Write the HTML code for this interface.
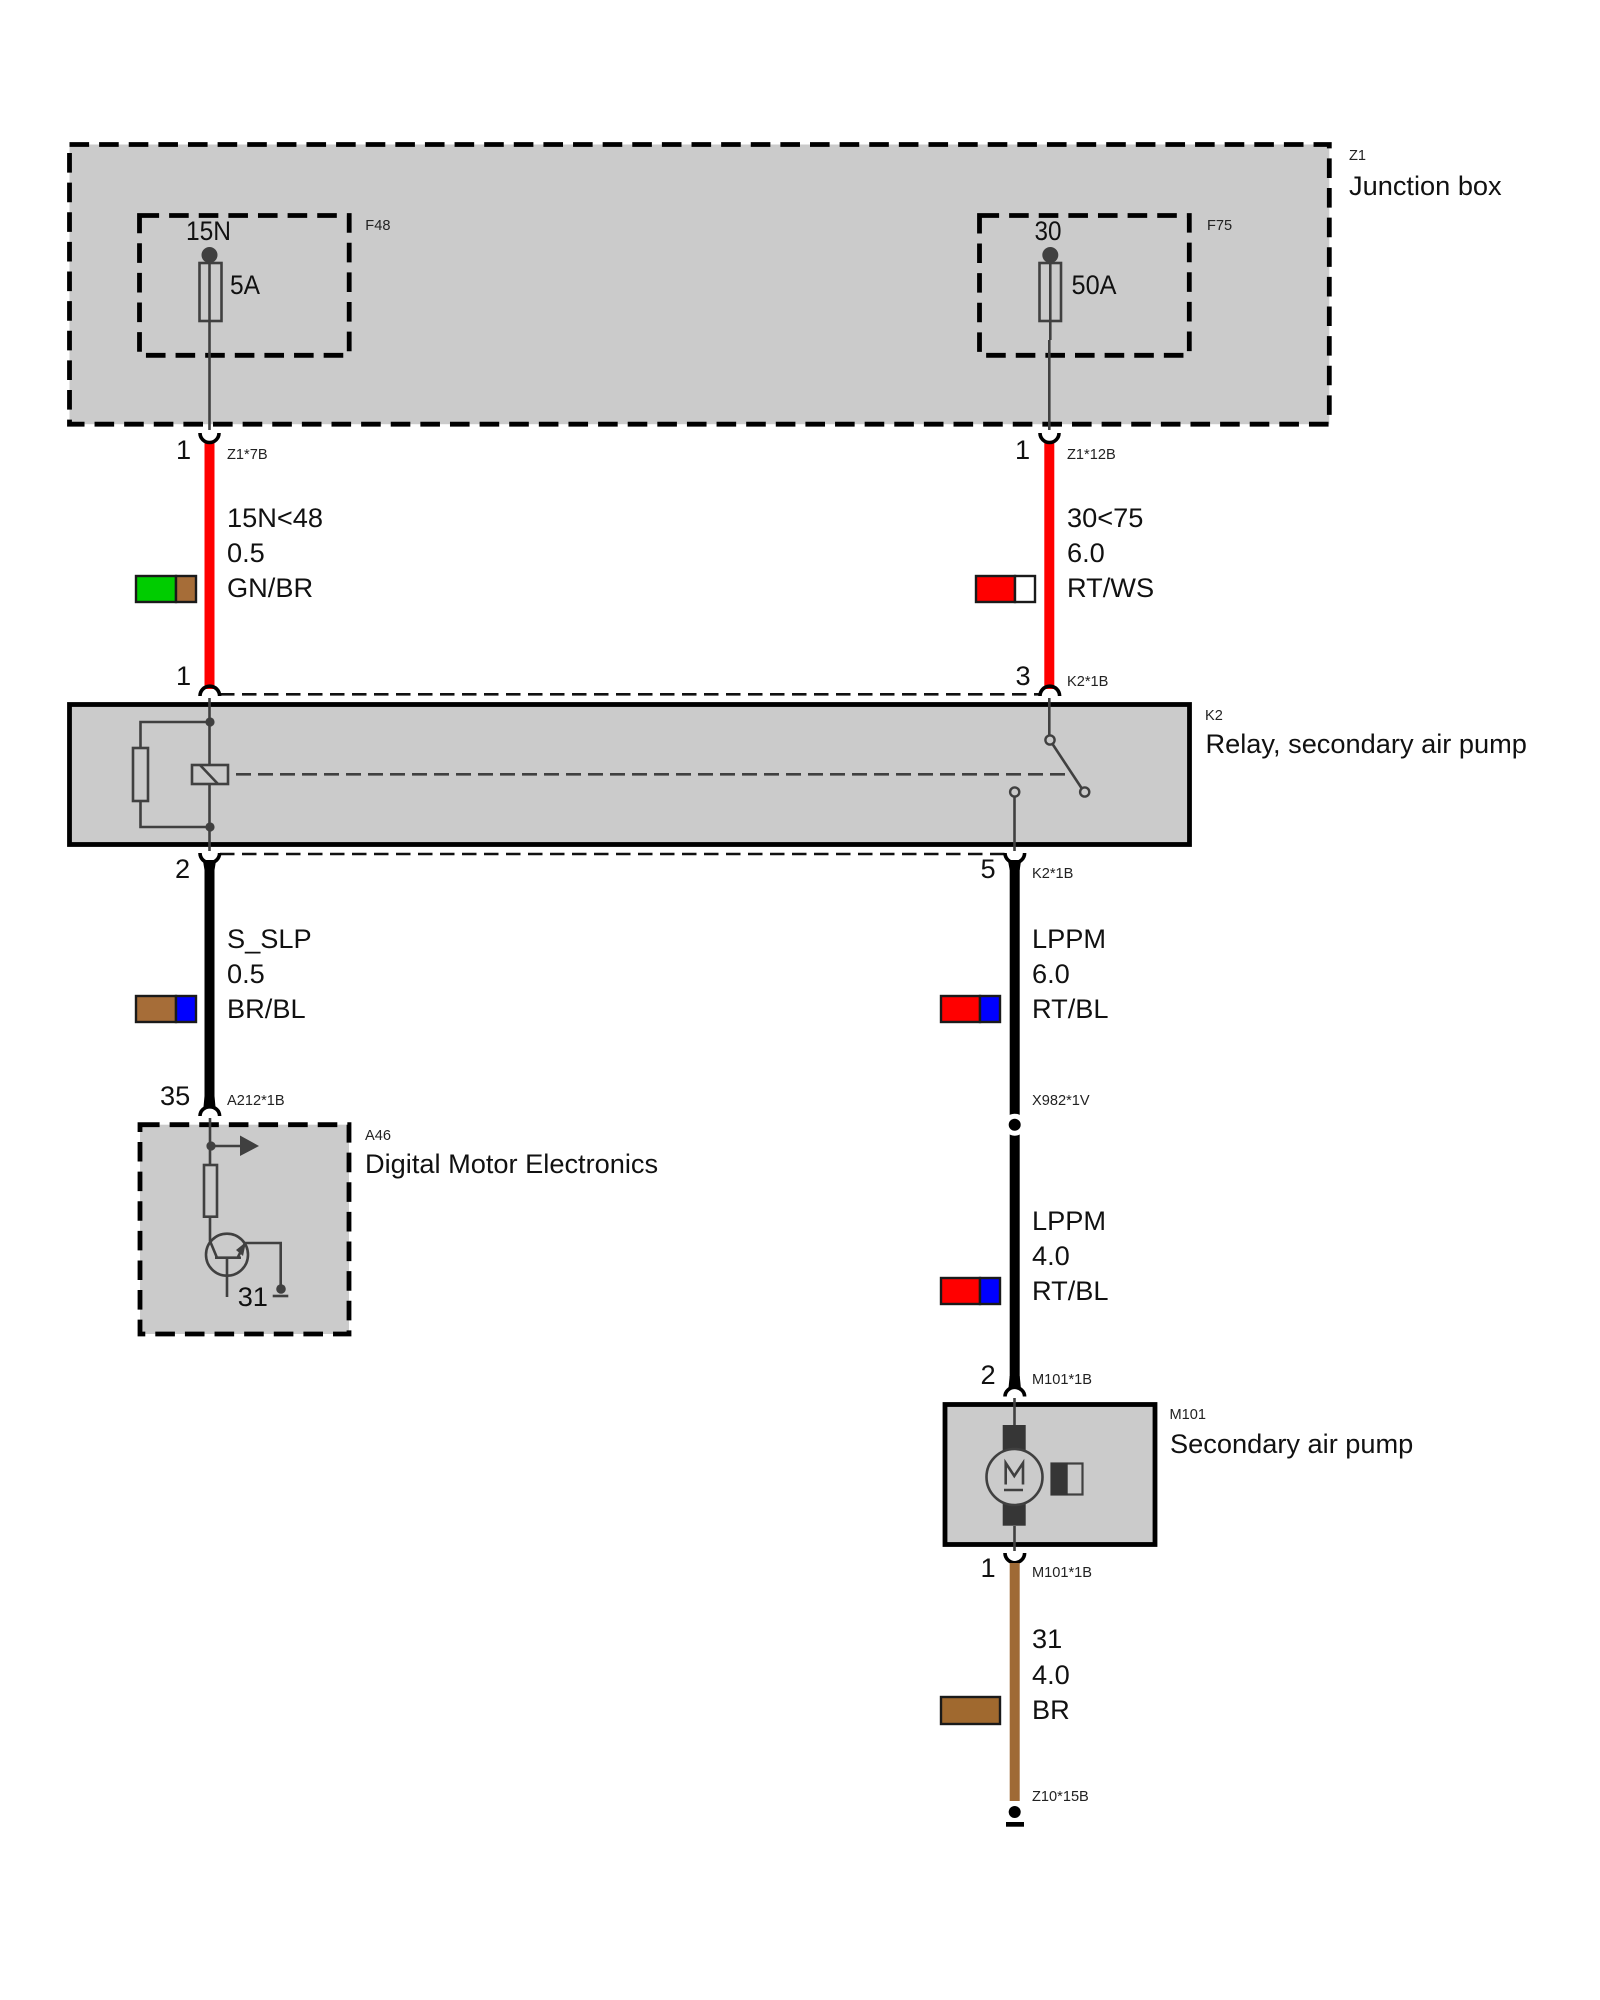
<!DOCTYPE html>
<html><head><meta charset="utf-8"><style>
html,body{margin:0;padding:0;background:#fff}
svg{display:block}
text{font-family:"Liberation Sans",Arial,sans-serif;fill:#111}
.b{font-size:27.2px}
.s{font-size:14.6px;fill:#222}
.box{fill:#cbcbcb;stroke:#000;stroke-width:4.8}
.dash{stroke-dasharray:19.6 10.02}
.solid{fill:#cbcbcb;stroke:#000;stroke-width:4.8}
.d{fill:none;stroke:#404040;stroke-width:2.6}
.cup{fill:none;stroke:#000;stroke-width:3.6}
.sw{stroke:#1a1a1a;stroke-width:2.4}
</style></head><body>
<svg xmlns="http://www.w3.org/2000/svg" width="1600" height="2000" viewBox="0 0 1600 2000">
<rect width="1600" height="2000" fill="#fff"/>
<rect class="box dash" x="69.5" y="144.5" width="1259.8" height="279.7"/>
<rect class="box dash" x="139.5" y="215.5" width="209.7" height="139.8"/>
<rect class="box dash" x="979.5" y="215.5" width="209.8" height="139.8"/>

<circle cx="209.5" cy="255" r="8" fill="#404040"/>
<rect class="d" x="199.5" y="263" width="22" height="58"/>
<path class="d" d="M209.5 255V430"/>
<circle cx="1050.3" cy="255" r="8" fill="#404040"/>
<rect class="d" x="1039.5" y="263" width="21.5" height="58"/>
<path class="d" d="M1050.3 255V340M1049.3 340V430"/>

<rect x="204.5" y="443" width="10" height="246" fill="#f00"/>
<rect x="1044.3" y="443" width="10" height="246" fill="#f00"/>
<path class="cup" d="M200 433A9.5 9.5 0 0 0 219 433"/>
<path class="cup" d="M1040 433A9.5 9.5 0 0 0 1059 433"/>

<rect class="solid" x="69.5" y="704.5" width="1120" height="140"/>
<path d="M220 694.3H1039M220 854H1005" fill="none" stroke="#111" stroke-width="2.6" stroke-dasharray="14.5 7.5"/>
<path class="cup" d="M200 696A9.8 9.8 0 0 1 219.6 696"/>
<path class="cup" d="M1040 696A9.8 9.8 0 0 1 1059.6 696"/>
<path class="cup" d="M200 853A9.8 9.8 0 0 0 219.6 853"/>
<path class="cup" d="M1005 853A9.8 9.8 0 0 0 1024.6 853"/>

<path class="d" d="M209.5 698V851"/>
<circle cx="210" cy="722" r="4.6" fill="#404040"/>
<circle cx="210" cy="827" r="4.6" fill="#404040"/>
<path class="d" d="M210 722H140.5V748M140.5 801V827H210"/>
<rect class="d" x="133" y="748" width="15" height="53"/>
<rect x="192" y="765" width="36" height="19" fill="#cbcbcb" stroke="#404040" stroke-width="2.6"/>
<path class="d" d="M200 765L218 784"/>
<path class="d" d="M236 774.3H1071" stroke-dasharray="15 7"/>
<path class="d" d="M1049.3 698V736"/>
<circle cx="1050" cy="740" r="4.6" fill="#cbcbcb" stroke="#404040" stroke-width="2.4"/>
<path class="d" d="M1052.5 744L1081.5 788"/>
<circle cx="1084.7" cy="792" r="4.6" fill="#cbcbcb" stroke="#404040" stroke-width="2.4"/>
<circle cx="1014.7" cy="792" r="4.6" fill="#cbcbcb" stroke="#404040" stroke-width="2.4"/>
<path class="d" d="M1014.5 797V851"/>

<path d="M204.5 860H214.5V1100H204.5Z" fill="#000"/>
<path d="M1009.7 860H1019.7V1380H1009.7Z" fill="#000"/>
<path d="M203 861L204.5 870H214.5L216 861ZM1008 861L1009.7 870H1019.7L1021 861Z" fill="#000"/>
<path d="M204.5 1096L203.5 1107H215.5L214.5 1096Z" fill="#000"/>
<circle cx="1014.7" cy="1124.7" r="11" fill="#fff"/>
<circle cx="1014.7" cy="1124.7" r="6" fill="#000"/>
<path d="M1009.7 1376L1008.5 1388H1020.9L1019.7 1376Z" fill="#000"/>
<path class="cup" d="M200 1116A9.8 9.2 0 0 1 219.6 1116"/>
<path class="cup" d="M1005 1396.5A9.8 9.2 0 0 1 1024.6 1396.5"/>

<rect class="box dash" x="140" y="1124.7" width="209" height="209.3"/>
<path class="d" d="M210 1118V1165"/>
<circle cx="211" cy="1146" r="4.6" fill="#404040"/>
<path class="d" d="M211 1146H240"/>
<path d="M240 1135.5L259 1146L240 1156Z" fill="#404040"/>
<rect class="d" x="204" y="1165" width="13" height="51.7"/>
<path class="d" d="M210 1217V1241L216.7 1257M215 1257.7H241M227 1257.7V1297M238 1257L245 1243H280.7V1289"/>
<circle cx="227" cy="1254.7" r="21" class="d"/>
<path d="M246 1242L236 1250L243 1256Z" fill="#404040"/>
<circle cx="281" cy="1289" r="4.8" fill="#404040"/>
<path class="d" d="M272.7 1296H288.3"/>

<rect class="solid" x="945" y="1404.5" width="210" height="140"/>
<path class="d" d="M1014.5 1398V1425M1014.5 1526V1551"/>
<rect x="1002.7" y="1425" width="23" height="26" fill="#363636"/>
<rect x="1002.7" y="1500" width="23" height="25.7" fill="#363636"/>
<circle cx="1014.5" cy="1477" r="28" fill="#cbcbcb" stroke="#404040" stroke-width="2.6"/>
<path class="d" d="M1005.7 1484.5V1463L1014.3 1476L1023 1463V1484.5"/>
<path class="d" d="M1004 1490H1023"/>
<rect x="1051.5" y="1463.5" width="31" height="31" fill="#cbcbcb" stroke="#404040" stroke-width="2.2"/>
<rect x="1050.7" y="1462.7" width="17" height="32.6" fill="#363636"/>
<path class="cup" d="M1005 1553A9.8 9.8 0 0 0 1024.6 1553"/>
<rect x="1009.7" y="1563" width="10" height="238" fill="#9f6a35"/>
<circle cx="1014.7" cy="1812" r="6" fill="#000"/>
<rect x="1006" y="1822" width="18" height="4.7" fill="#000"/>

<g class="sw">
<rect x="136" y="576" width="40" height="26" fill="#00cc00"/><rect x="176" y="576" width="20" height="26" fill="#a66d38"/>
<rect x="976" y="576" width="39" height="26" fill="#f00"/><rect x="1015" y="576" width="20" height="26" fill="#fff"/>
<rect x="136" y="996" width="40" height="26" fill="#a66d38"/><rect x="176" y="996" width="20" height="26" fill="#00f"/>
<rect x="941" y="996" width="39" height="26" fill="#f00"/><rect x="980" y="996" width="20" height="26" fill="#00f"/>
<rect x="941" y="1278" width="39" height="26" fill="#f00"/><rect x="980" y="1278" width="20" height="26" fill="#00f"/>
<rect x="941" y="1697" width="59" height="27" fill="#a0692f"/>
</g>

<text class="s" x="1349" y="160">Z1</text>
<text class="b" x="1349" y="195">Junction box</text>
<text class="s" x="365.3" y="230">F48</text>
<text class="s" x="1207" y="230">F75</text>
<text class="b" x="186" y="240" textLength="45" lengthAdjust="spacingAndGlyphs">15N</text>
<text class="b" x="1034.5" y="240" textLength="27" lengthAdjust="spacingAndGlyphs">30</text>
<text class="b" x="230" y="294" textLength="30" lengthAdjust="spacingAndGlyphs">5A</text>
<text class="b" x="1071.5" y="294" textLength="45" lengthAdjust="spacingAndGlyphs">50A</text>

<text class="b" x="176" y="459">1</text><text class="s" x="227" y="459">Z1*7B</text>
<text class="b" x="1015" y="459">1</text><text class="s" x="1067" y="459">Z1*12B</text>
<text class="b" x="227" y="527">15N&lt;48</text><text class="b" x="227" y="562">0.5</text><text class="b" x="227" y="597">GN/BR</text>
<text class="b" x="1067" y="527">30&lt;75</text><text class="b" x="1067" y="562">6.0</text><text class="b" x="1067" y="597">RT/WS</text>
<text class="b" x="176" y="685">1</text>
<text class="b" x="1015.5" y="685">3</text><text class="s" x="1067" y="686">K2*1B</text>
<text class="s" x="1205" y="720">K2</text>
<text class="b" x="1205.5" y="753">Relay, secondary air pump</text>

<text class="b" x="175" y="878">2</text>
<text class="b" x="980.5" y="878">5</text><text class="s" x="1032" y="878">K2*1B</text>
<text class="b" x="227" y="948">S_SLP</text><text class="b" x="227" y="983">0.5</text><text class="b" x="227" y="1018">BR/BL</text>
<text class="b" x="1032" y="948">LPPM</text><text class="b" x="1032" y="983">6.0</text><text class="b" x="1032" y="1018">RT/BL</text>
<text class="b" x="160" y="1105">35</text><text class="s" x="227" y="1105">A212*1B</text>
<text class="s" x="1032" y="1105">X982*1V</text>
<text class="s" x="365" y="1140">A46</text>
<text class="b" x="365" y="1173">Digital Motor Electronics</text>
<text class="b" x="237.7" y="1306">31</text>
<text class="b" x="1032" y="1230">LPPM</text><text class="b" x="1032" y="1265">4.0</text><text class="b" x="1032" y="1300">RT/BL</text>
<text class="b" x="980.5" y="1384">2</text><text class="s" x="1032" y="1384">M101*1B</text>
<text class="s" x="1169.5" y="1419">M101</text>
<text class="b" x="1170" y="1453">Secondary air pump</text>
<text class="b" x="980.5" y="1577">1</text><text class="s" x="1032" y="1577">M101*1B</text>
<text class="b" x="1032" y="1648">31</text><text class="b" x="1032" y="1684">4.0</text><text class="b" x="1032" y="1719">BR</text>
<text class="s" x="1032" y="1801">Z10*15B</text>
</svg>
</body></html>
